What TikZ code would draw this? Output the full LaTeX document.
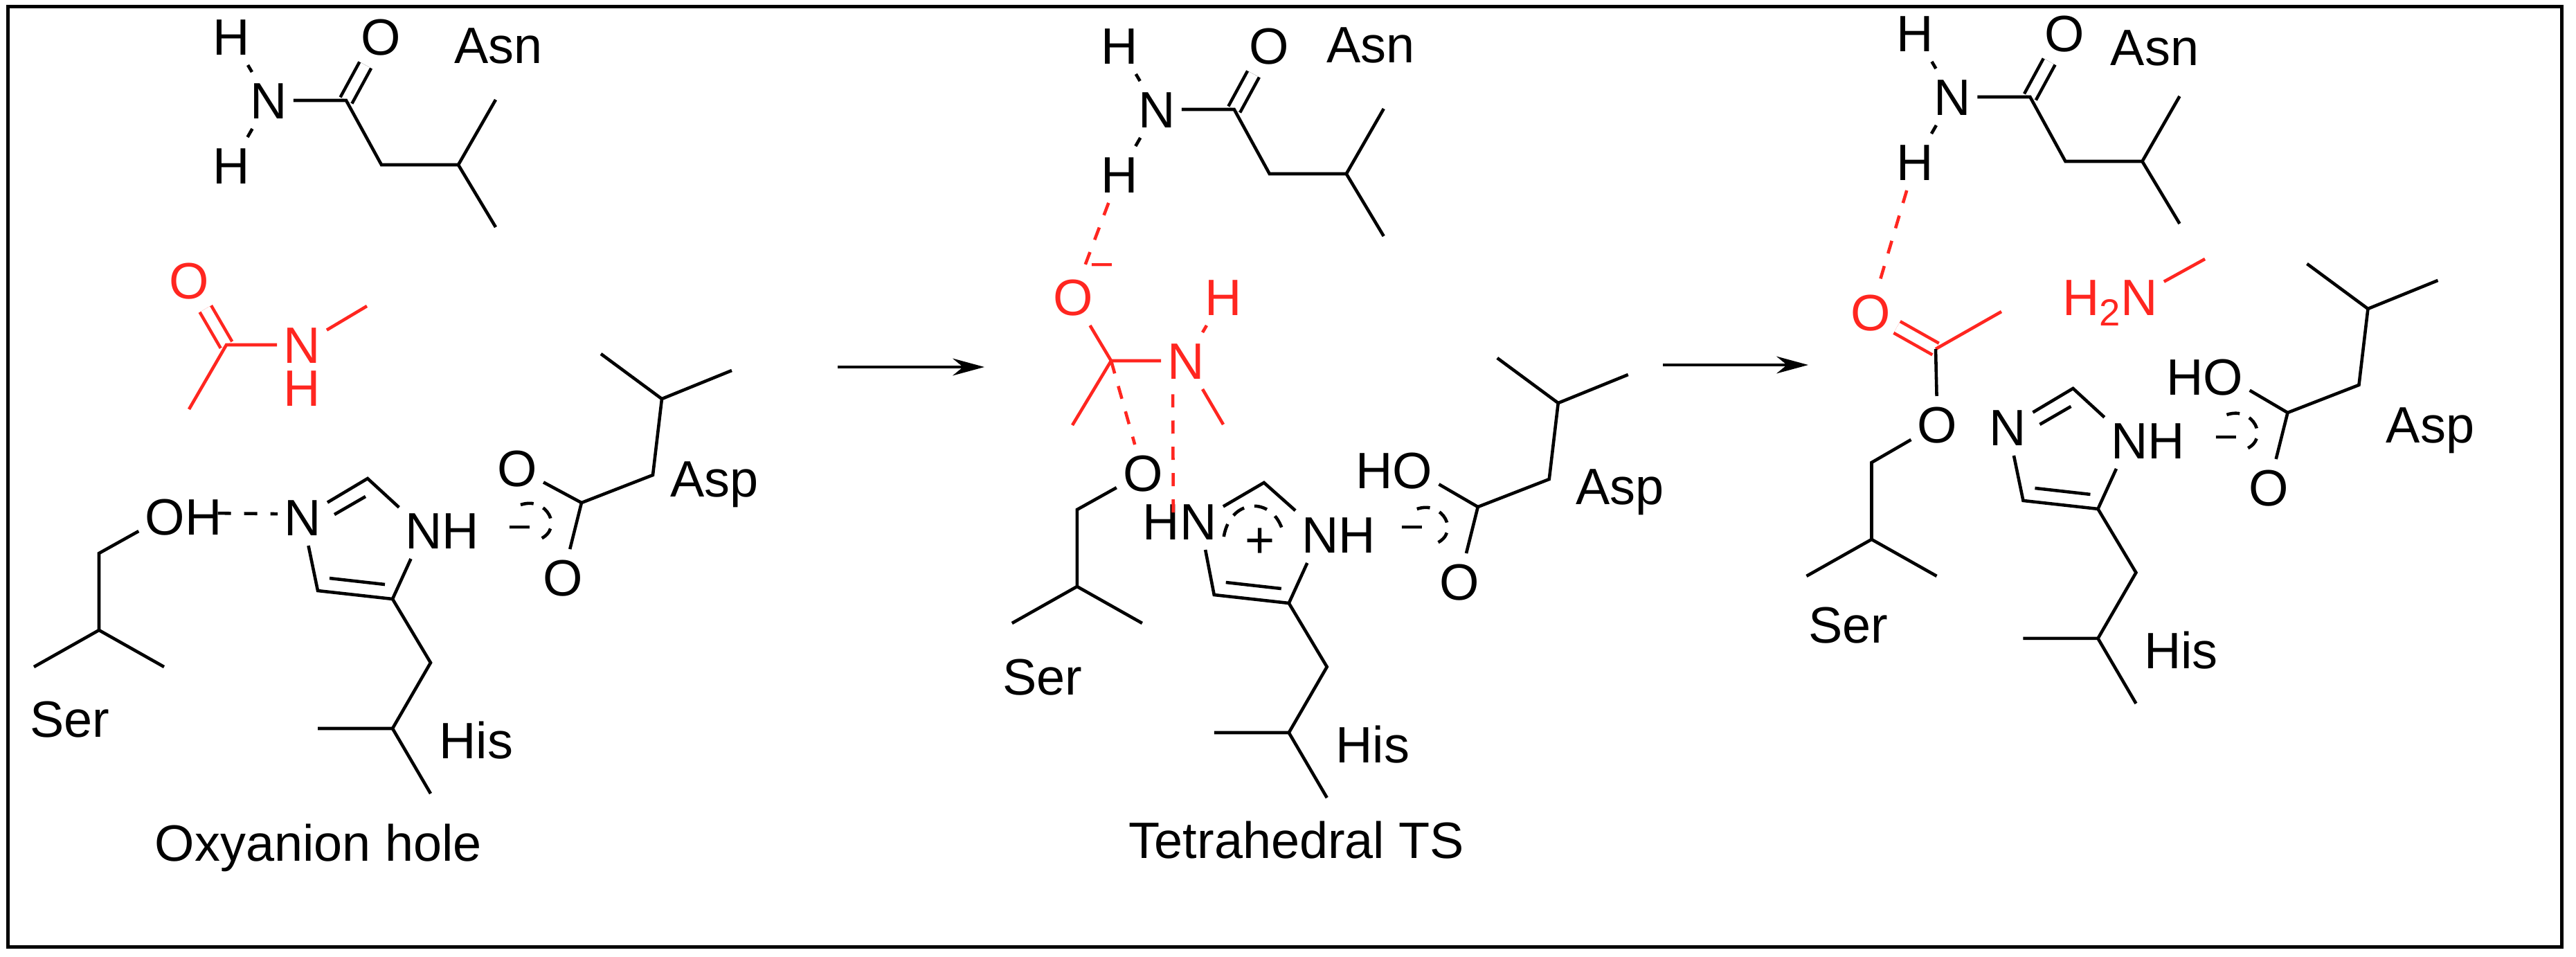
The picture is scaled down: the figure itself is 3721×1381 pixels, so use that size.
\documentclass[tikz,border=0pt]{standalone}
\usepackage{fontspec}
\setmainfont{Liberation Sans}
\usetikzlibrary{arrows.meta}
\definecolor{chemred}{RGB}{255,38,32}
\tikzset{
  atom/.style={inner xsep=2pt,inner ysep=3.5pt,text height=15pt,text depth=0pt,font=\fontsize{21}{24}\selectfont},
  redatom/.style={atom,text=chemred},
  tag/.style={inner sep=0pt,text height=15pt,text depth=0pt,font=\fontsize{21}{24}\selectfont},
  minustag/.style={inner sep=0pt,yshift=-1.9pt,font=\fontsize{17}{17}\selectfont},
  dblbond/.style={double,double distance=4.1pt},
  redbond/.style={draw=chemred},
  hbond/.style={dash pattern=on 5.4pt off 5.4pt},
  resarc/.style={dash pattern=on 5.4pt off 4.3pt},
}
\begin{document}
\begin{tikzpicture}[x=0.01cm,y=-0.01cm,line width=1.3pt]
  \useasboundingbox (0,0) rectangle (3721,1381);
  \draw[line width=1.4pt] (11.5,9.5) rectangle (3700.5,1367.5);

  % Oxyanion hole
  \begin{scope}
    \node[atom] (asnNa) at (388,145) {N};
    \node[atom] (asnHa) at (334,53) {H};
    \node[atom] (asnIa) at (334,239) {H};
    \node[atom] (asnOa) at (550,53) {O};
    \coordinate (asnCa) at (500,145);
    \coordinate (asnDa) at (551,238);
    \coordinate (asnEa) at (662,238);
    \coordinate (asnFa) at (716,144);
    \coordinate (asnGa) at (716,328);
    \draw[dblbond] (asnCa) -- (asnOa);
    \draw (asnHa) -- (asnNa) -- (asnIa);
    \draw (asnNa) -- (asnCa) -- (asnDa) -- (asnEa) -- (asnFa);
    \draw (asnEa) -- (asnGa);
    \node[tag] (asnLa) at (720,65) {Asn};
  \end{scope}

  \node[redatom] (amiOa) at (273,405) {O};
  \node[redatom] (amiNa) at (436,498) {N};
  \node[redatom] (amiHa) at (436,560) {H};
  \coordinate (amiCa) at (327,498);
  \coordinate (amiDa) at (273,591);
  \coordinate (amiEa) at (530,442);
  \draw[redbond,dblbond] (amiCa) -- (amiOa);
  \draw[redbond] (amiDa) -- (amiCa) -- (amiNa) -- (amiEa);

  \begin{scope}
    \node[atom] (serOa) at (265,746) {OH};
    \coordinate (serCa) at (143,799);
    \coordinate (serDa) at (143,910);
    \coordinate (serEa) at (49,963);
    \coordinate (serFa) at (237,963);
    \draw (serOa.198) -- (serCa) -- (serDa) -- (serEa);
    \draw (serDa) -- (serFa);
    \node[tag] (serLa) at (101,1038) {Ser};
  \end{scope}

  \begin{scope}
    \node[atom] (hisNa) at (437,747) {N};
    \node[atom] (hisMa) at (639,766) {NH};
    \coordinate (hisCa) at (531,691);
    \coordinate (hisDa) at (459,853);
    \coordinate (hisEa) at (567,865);
    \coordinate (hisFa) at (622,957);
    \coordinate (hisGa) at (567,1052);
    \coordinate (hisPa) at (459,1052);
    \coordinate (hisQa) at (622,1146);
    \coordinate (hisRa) at (483,743);
    \coordinate (hisSa) at (528,717);
    \coordinate (hisTa) at (476,835);
    \coordinate (hisUa) at (556,844);
    \draw (hisNa) -- (hisCa) -- (hisMa.152);
    \draw (hisRa) -- (hisSa);
    \draw (hisNa) -- (hisDa) -- (hisEa) -- (hisMa.222);
    \draw (hisTa) -- (hisUa);
    \draw (hisEa) -- (hisFa) -- (hisGa) -- (hisPa);
    \draw (hisGa) -- (hisQa);
    \node[tag] (hisLa) at (688,1069) {His};
  \end{scope}
  \draw[hbond] ([xshift=-4.3pt,yshift=1.4pt]serOa.east) -- ([yshift=1.4pt]hisNa.west);

  \begin{scope}
    \node[atom] (aspOa) at (747,676) {O};
    \node[atom] (aspPa) at (813,834) {O};
    \coordinate (aspCa) at (840,726);
    \coordinate (aspDa) at (943,686);
    \coordinate (aspEa) at (956,576);
    \coordinate (aspFa) at (868,511);
    \coordinate (aspGa) at (1057,535);
    \coordinate (aspRa) at (752,729);
    \coordinate (aspSa) at (779,779);
    \draw (aspOa) -- (aspCa) -- (aspPa);
    \draw (aspCa) -- (aspDa) -- (aspEa) -- (aspFa);
    \draw (aspEa) -- (aspGa);
    \draw[resarc] (aspRa) .. controls (790,716) and (815,764) .. (aspSa);
    \node[minustag] (aspMa) at (751,764) {−};
    \node[tag] (aspLa) at (1032,691) {Asp};
  \end{scope}

  \node[tag] (capa) at (460,1217) {Oxyanion hole};

  \coordinate (arrAs) at (1210,530);
  \coordinate (arrAe) at (1422,530);
  \draw[-{Stealth[length=13pt,width=7pt]}] (arrAs) -- (arrAe);

  % Tetrahedral TS
  \begin{scope}[xshift=12.82cm,yshift=-0.13cm]
    \node[atom] (asnNb) at (388,145) {N};
    \node[atom] (asnHb) at (334,53) {H};
    \node[atom] (asnIb) at (334,239) {H};
    \node[atom] (asnOb) at (550,53) {O};
    \coordinate (asnCb) at (500,145);
    \coordinate (asnDb) at (551,238);
    \coordinate (asnEb) at (662,238);
    \coordinate (asnFb) at (716,144);
    \coordinate (asnGb) at (716,328);
    \draw[dblbond] (asnCb) -- (asnOb);
    \draw (asnHb) -- (asnNb) -- (asnIb);
    \draw (asnNb) -- (asnCb) -- (asnDb) -- (asnEb) -- (asnFb);
    \draw (asnEb) -- (asnGb);
    \node[tag] (asnLb) at (697,51) {Asn};
  \end{scope}

  \begin{scope}[xshift=14.12cm,yshift=0.63cm]
    \node[atom] (serOb) at (238,746) {O};
    \coordinate (serCb) at (143,799);
    \coordinate (serDb) at (143,910);
    \coordinate (serEb) at (49,963);
    \coordinate (serFb) at (237,963);
    \draw (serOb) -- (serCb) -- (serDb) -- (serEb);
    \draw (serDb) -- (serFb);
    \node[tag] (serLb) at (93,1040) {Ser};
  \end{scope}

  \begin{scope}[xshift=12.94cm,yshift=-0.06cm]
    \node[atom] (hisNb) at (409.5,747) {HN};
    \node[atom] (hisMb) at (639,766) {NH};
    \coordinate (hisCb) at (531,691);
    \coordinate (hisDb) at (459,853);
    \coordinate (hisEb) at (567,865);
    \coordinate (hisFb) at (622,957);
    \coordinate (hisGb) at (567,1052);
    \coordinate (hisPb) at (459,1052);
    \coordinate (hisQb) at (622,1146);
    \coordinate (hisRb) at (473,769);
    \coordinate (hisSb) at (560,769);
    \coordinate (hisTb) at (476,835);
    \coordinate (hisUb) at (556,844);
    \draw (hisNb.19) -- (hisCb) -- (hisMb.151);
    \draw[resarc] (hisRb) .. controls (483,710) and (550,710) .. (hisSb);
    \draw (hisNb.312) -- (hisDb) -- (hisEb) -- (hisMb.222);
    \draw (hisTb) -- (hisUb);
    \draw (hisEb) -- (hisFb) -- (hisGb) -- (hisPb);
    \draw (hisGb) -- (hisQb);
    \node[tag] (hisAb) at (525,773) {+};
    \node[tag] (hisLb) at (688,1069) {His};
  \end{scope}

  \begin{scope}[xshift=12.94cm,yshift=-0.06cm]
    \node[atom] (aspOb) at (719,673.5) {HO};
    \node[atom] (aspPb) at (813,834) {O};
    \coordinate (aspCb) at (840,726);
    \coordinate (aspDb) at (943,686);
    \coordinate (aspEb) at (956,576);
    \coordinate (aspFb) at (868,511);
    \coordinate (aspGb) at (1057,535);
    \coordinate (aspRb) at (752,729);
    \coordinate (aspSb) at (779,779);
    \draw (aspOb.343) -- (aspCb) -- (aspPb);
    \draw (aspCb) -- (aspDb) -- (aspEb) -- (aspFb);
    \draw (aspEb) -- (aspGb);
    \draw[resarc] (aspRb) .. controls (790,716) and (815,764) .. (aspSb);
    \node[minustag] (aspMb) at (745,758) {−};
    \node[tag] (aspLb) at (1045,696) {Asp};
  \end{scope}

  \node[redatom] (tetOb) at (1550,429) {O};
  \node[redatom] (tetNb) at (1713,521) {N};
  \node[redatom] (tetHb) at (1767,429) {H};
  \node[minustag,text=chemred] (tetMb) at (1592,385) {−};
  \coordinate (tetCb) at (1605,521);
  \coordinate (tetDb) at (1549,614);
  \coordinate (tetEb) at (1767,613);
  \draw[redbond] (tetOb) -- (tetCb) -- (tetDb);
  \draw[redbond] (tetCb) -- (tetNb) -- (tetEb);
  \draw[redbond] (tetNb) -- (tetHb);
  \draw[redbond,hbond] (asnIb) -- (tetOb);
  \draw[redbond,hbond] (tetCb) -- (serOb);
  \draw[redbond,hbond] ([xshift=-2.7pt,yshift=-8pt]hisNb.north) -- ([xshift=-5.4pt,yshift=2.5pt]tetNb.south);

  \node[tag] (capb) at (1873,1213) {Tetrahedral TS};

  \coordinate (arrBs) at (2402,527);
  \coordinate (arrBe) at (2612,527);
  \draw[-{Stealth[length=13pt,width=7pt]}] (arrBs) -- (arrBe);

  % Product
  \begin{scope}[xshift=24.31cm,yshift=0.05cm]
    \node[atom] (asnNc) at (388,145) {N};
    \node[atom] (asnHc) at (334,53) {H};
    \node[atom] (asnIc) at (334,239) {H};
    \node[atom] (asnOc) at (550,53) {O};
    \coordinate (asnCc) at (500,145);
    \coordinate (asnDc) at (551,238);
    \coordinate (asnEc) at (662,238);
    \coordinate (asnFc) at (716,144);
    \coordinate (asnGc) at (716,328);
    \draw[dblbond] (asnCc) -- (asnOc);
    \draw (asnHc) -- (asnNc) -- (asnIc);
    \draw (asnNc) -- (asnCc) -- (asnDc) -- (asnEc) -- (asnFc);
    \draw (asnEc) -- (asnGc);
    \node[tag] (asnLc) at (680,73) {Asn};
  \end{scope}

  \begin{scope}[xshift=25.59cm,yshift=1.31cm]
    \node[atom] (serOc) at (238,744) {O};
    \coordinate (serCc) at (143,799);
    \coordinate (serDc) at (143,910);
    \coordinate (serEc) at (49,963);
    \coordinate (serFc) at (237,963);
    \draw (serOc) -- (serCc) -- (serDc) -- (serEc);
    \draw (serDc) -- (serFc);
    \node[tag] (serLc) at (109,1033) {Ser};
  \end{scope}

  \begin{scope}[xshift=24.62cm,yshift=1.30cm]
    \node[atom] (hisNc) at (437,747) {N};
    \node[atom] (hisMc) at (639,766) {NH};
    \coordinate (hisCc) at (531,691);
    \coordinate (hisDc) at (459,853);
    \coordinate (hisEc) at (567,865);
    \coordinate (hisFc) at (622,957);
    \coordinate (hisGc) at (567,1052);
    \coordinate (hisPc) at (459,1052);
    \coordinate (hisQc) at (622,1146);
    \coordinate (hisRc) at (483,743);
    \coordinate (hisSc) at (528,717);
    \coordinate (hisTc) at (476,835);
    \coordinate (hisUc) at (556,844);
    \draw (hisNc) -- (hisCc) -- (hisMc.152);
    \draw (hisRc) -- (hisSc);
    \draw (hisNc) -- (hisDc) -- (hisEc) -- (hisMc.222);
    \draw (hisTc) -- (hisUc);
    \draw (hisEc) -- (hisFc) -- (hisGc) -- (hisPc);
    \draw (hisGc) -- (hisQc);
    \node[tag] (hisLc) at (687,1069) {His};
  \end{scope}

  \begin{scope}[xshift=24.63cm,yshift=1.30cm]
    \node[atom] (aspOc) at (720.5,674) {HO};
    \node[atom] (aspPc) at (813,834) {O};
    \coordinate (aspCc) at (840,726);
    \coordinate (aspDc) at (943,686);
    \coordinate (aspEc) at (956,576);
    \coordinate (aspFc) at (868,511);
    \coordinate (aspGc) at (1057,535);
    \coordinate (aspRc) at (752,729);
    \coordinate (aspSc) at (779,779);
    \draw (aspOc.343) -- (aspCc) -- (aspPc);
    \draw (aspCc) -- (aspDc) -- (aspEc) -- (aspFc);
    \draw (aspEc) -- (aspGc);
    \draw[resarc] (aspRc) .. controls (790,716) and (815,764) .. (aspSc);
    \node[minustag] (aspMc) at (751,764) {−};
    \node[tag] (aspLc) at (1046,743) {Asp};
  \end{scope}

  \node[redatom] (estOc) at (2702,451) {O};
  \coordinate (estCc) at (2796,504);
  \coordinate (estDc) at (2891,450);
  \draw[redbond,dblbond] (estCc) -- (estOc);
  \draw[redbond] (estCc) -- (estDc);
  \draw (estCc) -- (serOc);
  \draw[redbond,hbond] (asnIc) -- (estOc);

  \node[redatom] (amnNc) at (3048,429) {H\raisebox{-4.3pt}{\fontsize{15.5}{15.5}\selectfont 2}N};
  \coordinate (amnCc) at (3185,374);
  \draw[redbond] (amnNc.16) -- (amnCc);
\end{tikzpicture}
\end{document}
